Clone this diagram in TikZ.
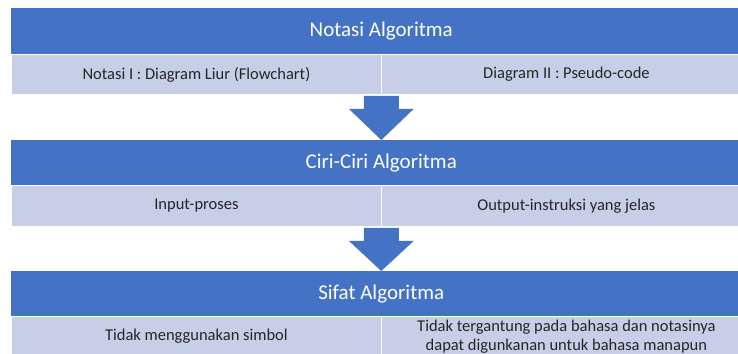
\documentclass[tikz,border=0pt]{standalone}
\usepackage{fontspec}
\setmainfont{Carlito}
\usetikzlibrary{calc}
\definecolor{hdr}{HTML}{4472C4}
\definecolor{subc}{HTML}{C7CEE7}
\newcommand\blockarrow[2]{%
  \fill[hdr] ($(#1)+(-17.5,1)$) -- ($(#1)+(17.5,1)$) -- ($(#1)+(17.5,14)$)
    -- ($(#1)+(32.5,14)$) -- (#2) -- ($(#1)+(-32.5,14)$)
    -- ($(#1)+(-17.5,14)$) -- cycle;}
\begin{document}
\begin{tikzpicture}[x=1pt,y=-1pt,
  hdrbox/.style={fill=hdr, text=white, minimum width=740pt, minimum height=46pt,
    anchor=north west, inner sep=0pt, font=\fontsize{21}{25}\selectfont},
  subbox/.style={fill=subc, draw=white, line width=0.8pt, text=black!85,
    minimum width=370pt, minimum height=40pt, anchor=north west, inner sep=0pt,
    align=center, font=\fontsize{16.5}{19}\selectfont}]
\useasboundingbox (0,0) rectangle (738,353);
% row 1
\node[hdrbox] (h1) at (11,8) {Notasi Algoritma};
\node[subbox] (s1l) at (11,54) {Notasi I : Diagram Liur (Flowchart)};
\node[subbox] (s1r) at (381,54) {Diagram II : Pseudo-code};
% row 2
\node[hdrbox, minimum height=45pt] (h2) at (11,140) {Ciri-Ciri Algoritma};
\node[subbox, minimum height=41pt] (s2l) at (11,185) {Input-proses};
\node[subbox, minimum height=41pt] (s2r) at (381,185) {Output-instruksi yang jelas};
% row 3
\node[hdrbox, minimum height=45pt] (h3) at (11,271) {Sifat Algoritma};
\node[subbox] (s3l) at (11,316) {Tidak menggunakan simbol};
\node[subbox] (s3r) at (381,316) {Tidak tergantung pada bahasa dan notasinya\\dapat digunkanan untuk bahasa manapun};
% arrows
\coordinate (a1) at ($(s1l.south east)+(-0.5,0)$);
\coordinate (t1) at (a1 |- h2.north);
\coordinate (a2) at ($(s2l.south east)+(-0.5,0)$);
\coordinate (t2) at (a2 |- h3.north);
\blockarrow{a1}{t1}
\blockarrow{a2}{t2}
\end{tikzpicture}
\end{document}
